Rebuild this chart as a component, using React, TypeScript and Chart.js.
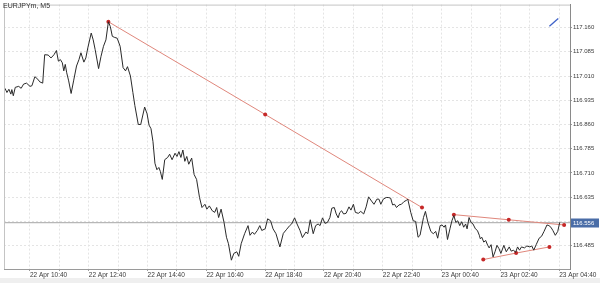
import React, { useEffect, useRef } from 'react';
import { Chart, registerables } from 'chart.js';
Chart.register(...registerables);

// Minutes relative to 22 Apr 10:40 (M5 chart)
const priceMinutes = [
  -57, -51, -47, -43, -39, -37, -34, -30, -23, -18, -13, -7, 0, 4, 10, 16, 20, 26, 30, 37,
  43, 49, 54, 58, 62, 66, 69, 72, 75, 79, 84, 89, 95, 100, 104, 110, 114, 118, 125, 129,
  133, 140, 145, 150, 155, 160, 164, 168, 172, 178, 184, 190, 195, 199, 205, 210, 214, 221, 226, 234,
  239, 243, 247, 251, 255, 259, 263, 266, 270, 275, 281, 285, 290, 296, 300, 304, 308, 312, 316, 320,
  324, 330, 335, 340, 346, 351, 357, 361, 366, 372, 377, 381, 385, 390, 396, 401, 405, 411, 416, 422,
  426, 431, 438, 445, 449, 454, 458, 464, 469, 473, 480, 485, 491, 496, 502, 510, 517, 523, 530, 534,
  540, 545, 551, 556, 563, 567, 572, 578, 583, 588, 592, 597, 602, 607, 612, 616, 621, 625, 629, 632,
  636, 640, 645, 651, 655, 660, 664, 670, 675, 681, 686, 691, 697, 702, 708, 712, 716, 721, 727, 731,
  736, 740, 744, 748, 753, 758, 763, 769, 771, 777, 782, 787, 792, 796, 803, 807, 812, 818, 823, 828,
  832, 837, 841, 845, 848, 852, 857, 861, 865, 869, 873, 877, 881, 885, 889, 892, 896, 900, 904, 909,
  913, 917, 919, 922, 926, 930, 934, 937, 941, 945, 949, 953, 957, 961, 967, 972, 978, 982, 987, 991,
  995, 999, 1003, 1009, 1014, 1020, 1024, 1028, 1033, 1039, 1044, 1049, 1055, 1059, 1063, 1067, 1072, 1077, 1081
];
const priceValues = [
  116.965, 116.972, 116.959, 116.969, 116.954, 116.968, 116.949, 116.975, 116.978, 116.972, 116.985, 116.988, 116.978, 116.980, 117.008, 117.000, 116.992, 116.988, 117.076, 117.075,
  117.066, 117.076, 117.089, 117.056, 117.061, 117.051, 117.026, 117.046, 117.020, 116.995, 116.956, 116.995, 117.041, 117.061, 117.082, 117.053, 117.066, 117.097, 117.143, 117.122,
  117.092, 117.033, 117.071, 117.102, 117.122, 117.178, 117.163, 117.133, 117.130, 117.127, 117.102, 117.036, 117.026, 117.039, 117.010, 116.959, 116.919, 116.860, 116.860, 116.914,
  116.893, 116.858, 116.847, 116.807, 116.740, 116.720, 116.727, 116.715, 116.690, 116.751, 116.758, 116.768, 116.751, 116.771, 116.761, 116.776, 116.758, 116.781, 116.746, 116.761,
  116.737, 116.756, 116.705, 116.690, 116.634, 116.603, 116.613, 116.598, 116.608, 116.593, 116.588, 116.603, 116.572, 116.598, 116.557, 116.511, 116.491, 116.440, 116.461, 116.466,
  116.452, 116.491, 116.522, 116.547, 116.517, 116.527, 116.520, 116.532, 116.547, 116.532, 116.537, 116.568, 116.562, 116.537, 116.522, 116.481, 116.523, 116.534, 116.547, 116.552,
  116.571, 116.552, 116.532, 116.510, 116.527, 116.522, 116.565, 116.522, 116.547, 116.552, 116.547, 116.571, 116.554, 116.557, 116.572, 116.601, 116.603, 116.583, 116.571, 116.587,
  116.593, 116.583, 116.585, 116.605, 116.595, 116.613, 116.588, 116.585, 116.591, 116.583, 116.605, 116.636, 116.623, 116.613, 116.629, 116.629, 116.613, 116.629, 116.634, 116.634,
  116.632, 116.611, 116.613, 116.603, 116.611, 116.613, 116.621, 116.626, 116.629, 116.588, 116.562, 116.560, 116.511, 116.517, 116.572, 116.591, 116.557, 116.529, 116.522, 116.529,
  116.508, 116.547, 116.549, 116.542, 116.549, 116.504, 116.537, 116.562, 116.578, 116.557, 116.562, 116.547, 116.559, 116.542, 116.552, 116.537, 116.572, 116.557, 116.552, 116.537,
  116.532, 116.517, 116.506, 116.511, 116.496, 116.501, 116.486, 116.478, 116.488, 116.450, 116.466, 116.486, 116.476, 116.461, 116.486, 116.466, 116.481, 116.468, 116.471, 116.464,
  116.481, 116.471, 116.481, 116.478, 116.484, 116.481, 116.484, 116.471, 116.488, 116.508, 116.514, 116.529, 116.549, 116.547, 116.542, 116.532, 116.517, 116.529, 116.557
];

const trendAMinutes = [160, 480, 800];
const trendAValues = [117.178, 116.891, 116.603];
const trendBMinutes = [865, 977, 1090];
const trendBValues = [116.581, 116.565, 116.549];
const trendCMinutes = [925, 992, 1060];
const trendCValues = [116.442, 116.462, 116.481];
const markerMinutes = [1060, 1078];
const markerValues = [117.164, 117.188];
const lastPrice = 116.556;

const xMin = -53;
const xMax = 1102;
const yMin = 116.4127;
const yMax = 117.2311;

const xTickMinutes = [0, 60, 120, 180, 240, 300, 360, 420, 480, 540, 600, 660, 720, 780, 840, 900, 960, 1020, 1080];
const xTickLabels = [
  '22 Apr 10:40', '', '22 Apr 12:40', '', '22 Apr 14:40', '', '22 Apr 16:40', '', '22 Apr 18:40', '',
  '22 Apr 20:40', '', '22 Apr 22:40', '', '23 Apr 00:40', '', '23 Apr 02:40', '', '23 Apr 04:40'
];
const yTickValues = [116.485, 116.56, 116.635, 116.71, 116.785, 116.86, 116.935, 117.01, 117.085, 117.16];
const yTickLabels = ['116.485', '', '116.635', '116.710', '116.785', '116.860', '116.935', '117.010', '117.085', '117.160'];

const FONT = '"Liberation Sans", Arial, sans-serif';

const pts = (xs: number[], ys: number[]) => xs.map((x, i) => ({ x, y: ys[i] }));

const decor = {
  id: 'decor',
  beforeDraw(chart: any) {
    const { ctx, width, height } = chart;
    ctx.save();
    ctx.fillStyle = '#ffffff';
    ctx.fillRect(0, 0, width, height);
    ctx.fillStyle = '#efefef';
    ctx.fillRect(0, 278, width, height - 278);
    ctx.restore();
  },
  afterDraw(chart: any) {
    const { ctx, chartArea } = chart;
    const { left, top, right, bottom } = chartArea;
    const y = chart.scales.y;
    ctx.save();
    ctx.strokeStyle = '#c4c4c4';
    ctx.lineWidth = 1;
    ctx.beginPath();
    ctx.moveTo(left, top + 0.5);
    ctx.lineTo(right, top + 0.5);
    ctx.moveTo(left + 0.5, top);
    ctx.lineTo(left + 0.5, bottom);
    ctx.stroke();

    ctx.fillStyle = '#333333';
    ctx.font = '7px ' + FONT;
    ctx.textBaseline = 'middle';
    ctx.textAlign = 'left';
    ctx.fillText('EURJPYm, M5', 3, 6);

    const py = y.getPixelForValue(lastPrice);
    ctx.fillStyle = '#4a6da7';
    ctx.fillRect(right + 1, Math.round(py) - 4.5, 28, 9);
    ctx.fillStyle = '#ffffff';
    ctx.font = '6px ' + FONT;
    ctx.fillText(lastPrice.toFixed(3), right + 3, py + 0.5);
    ctx.restore();
  }
};

export default function App() {
  const ref = useRef<HTMLCanvasElement | null>(null);
  useEffect(() => {
    document.body.style.margin = '0';
    const canvas = ref.current;
    if (!canvas) return;
    const red = '#e0877c';
    const dot = '#c62828';
    const chart = new Chart(canvas, {
      type: 'line',
      data: {
        datasets: [
          {
            data: pts(priceMinutes, priceValues),
            borderColor: '#2a2a2a',
            borderWidth: 1,
            pointRadius: 0,
            tension: 0
          },
          {
            data: pts(trendAMinutes, trendAValues),
            borderColor: red,
            borderWidth: 1,
            pointRadius: 2,
            pointBackgroundColor: dot,
            pointBorderWidth: 0
          },
          {
            data: pts(trendBMinutes, trendBValues),
            borderColor: red,
            borderWidth: 1,
            pointRadius: 2,
            pointBackgroundColor: dot,
            pointBorderWidth: 0
          },
          {
            data: pts(trendCMinutes, trendCValues),
            borderColor: red,
            borderWidth: 1,
            pointRadius: 2,
            pointBackgroundColor: dot,
            pointBorderWidth: 0
          },
          {
            data: pts(markerMinutes, markerValues),
            borderColor: '#3f62c8',
            borderWidth: 1.3,
            pointRadius: 0
          },
          {
            data: pts([xMin, xMax], [lastPrice, lastPrice]),
            borderColor: '#a6a6a6',
            borderWidth: 1,
            pointRadius: 0
          }
        ]
      },
      options: {
        responsive: false,
        animation: false,
        devicePixelRatio: 1,
        layout: { padding: { left: 2, top: 1, right: 0, bottom: 0 } },
        plugins: { legend: { display: false }, tooltip: { enabled: false } },
        scales: {
          x: {
            type: 'linear',
            position: 'bottom',
            min: xMin,
            max: xMax,
            afterBuildTicks: (s: any) => {
              s.ticks = xTickMinutes.map((v) => ({ value: v }));
            },
            afterFit: (s: any) => {
              s.height = 14;
            },
            grid: {
              color: '#e4e4e4',
              lineWidth: 1,
              drawTicks: true,
              tickLength: 2,
              tickColor: '#9a9a9a'
            },
            border: { display: true, color: '#9a9a9a', width: 1, dash: [2, 2] },
            ticks: {
              autoSkip: false,
              maxRotation: 0,
              minRotation: 0,
              align: 'start',
              padding: 0,
              color: '#3a3a3a',
              font: { size: 6.5, family: FONT },
              callback: (v: any) => {
                const i = xTickMinutes.indexOf(Number(v));
                return i >= 0 ? xTickLabels[i] : '';
              }
            }
          },
          y: {
            type: 'linear',
            position: 'right',
            min: yMin,
            max: yMax,
            afterBuildTicks: (s: any) => {
              s.ticks = yTickValues.map((v) => ({ value: v }));
            },
            afterFit: (s: any) => {
              s.width = 30;
            },
            grid: {
              color: '#e4e4e4',
              lineWidth: 1,
              drawTicks: true,
              tickLength: 2,
              tickColor: '#9a9a9a'
            },
            border: { display: true, color: '#8a8a8a', width: 1, dash: [2, 2] },
            ticks: {
              autoSkip: false,
              padding: 1,
              color: '#3a3a3a',
              font: { size: 6, family: FONT },
              callback: (v: any) => {
                const i = yTickValues.findIndex((t) => Math.abs(t - Number(v)) < 1e-6);
                return i >= 0 ? yTickLabels[i] : '';
              }
            }
          }
        }
      },
      plugins: [decor]
    } as any);
    return () => chart.destroy();
  }, []);
  return (
    <div style={{ width: 600, height: 283 }}>
      <canvas ref={ref} width={600} height={283} style={{ display: 'block' }} />
    </div>
  );
}
